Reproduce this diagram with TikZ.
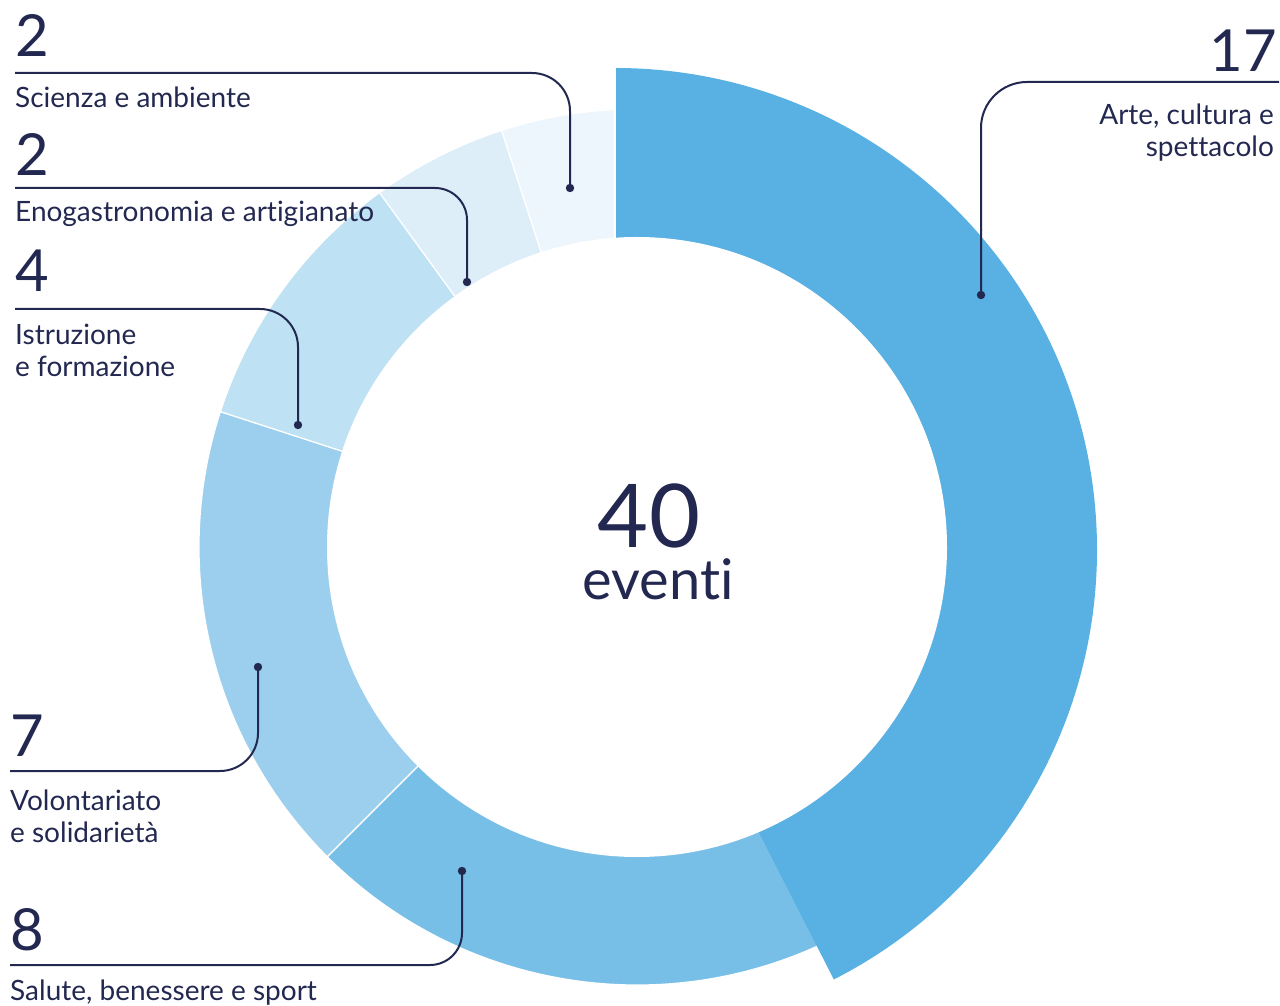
\documentclass[tikz,border=0pt]{standalone}
\usepackage{fontspec}
\setmainfont{Lato}[Ligatures=NoCommon]
\usetikzlibrary{positioning}

\definecolor{navy}{RGB}{34,40,80}
\definecolor{arteblue}{RGB}{88,176,227}
\definecolor{saluteblue}{RGB}{120,191,231}
\definecolor{volblue}{RGB}{156,207,238}
\definecolor{istrblue}{RGB}{190,225,244}
\definecolor{enoblue}{RGB}{221,238,249}
\definecolor{sciblue}{RGB}{237,246,252}

\tikzset{
  slice/.style={draw=white, line width=1.2pt},
  count/.style={inner sep=0pt, text=navy, font=\fontsize{58}{58}\selectfont},
  cat/.style={inner sep=0pt, text=navy, font=\fontsize{28}{32}\selectfont, align=left},
  leader/.style={draw=navy, line width=2pt, rounded corners=38},
  dot/.style={fill=navy}
}

\begin{document}
\begin{tikzpicture}[x=1pt,y=1pt]
  \useasboundingbox (0,0) rectangle (1280,1005);
  \coordinate (O) at (637,458);
  \coordinate (A) at (615,455);
  \foreach \a/\b/\c in {-63/-135/saluteblue, -135/-198/volblue, -198/-234/istrblue, -234/-252/enoblue, -252/-270/sciblue}
    \filldraw[slice, fill=\c] (O) -- ++(\a:438) arc (\a:\b:438) -- cycle;
  \fill[arteblue] (A) -- ++(90:482) arc (90:-63:482) -- cycle;
  \draw[white, line width=1.2pt] (A) -- ++(90:482);
  \fill[white] (O) circle (310);

  \node[inner sep=0pt, text=navy, font=\fontsize{88}{88}\selectfont, anchor=base] (total) at (649,457) {40};
  \node[inner sep=0pt, text=navy, font=\fontsize{56}{56}\selectfont, anchor=base] (unit) at (658,405) {eventi};

  \node[count, anchor=base west] (sciN) at (15,948) {2};
  \node[cat, anchor=base west] (sciT) at (15,897) {Scienza e ambiente};
  \coordinate (sciL) at (15,932);
  \coordinate (sciD) at (570,817);
  \draw[leader] (sciL) -| (sciD);
  \fill[dot] (sciD) circle (4.2);

  \node[count, anchor=base west] (enoN) at (15,829) {2};
  \node[cat, anchor=base west] (enoT) at (15,783) {Enogastronomia e artigianato};
  \coordinate (enoL) at (15,817);
  \coordinate (enoD) at (467,723);
  \draw[leader, rounded corners=32] (enoL) -| (enoD);
  \fill[dot] (enoD) circle (4.2);

  \node[count, anchor=base west] (istrN) at (15,713) {4};
  \node[cat, anchor=base west] (istrT) at (15,628) {Istruzione\\e formazione};
  \coordinate (istrL) at (15,696);
  \coordinate (istrD) at (298,580);
  \draw[leader] (istrL) -| (istrD);
  \fill[dot] (istrD) circle (4.2);

  \node[count, anchor=base west] (volN) at (10,248) {7};
  \node[cat, anchor=base west] (volT) at (10,163) {Volontariato\\e solidarietà};
  \coordinate (volL) at (10,234);
  \coordinate (volD) at (258,338);
  \draw[leader] (volL) -| (volD);
  \fill[dot] (volD) circle (4.2);

  \node[count, anchor=base west] (salN) at (10,55) {8};
  \node[cat, anchor=base west] (salT) at (10,5) {Salute, benessere e sport};
  \coordinate (salL) at (10,40);
  \coordinate (salD) at (462,134);
  \draw[leader, rounded corners=32] (salL) -| (salD);
  \fill[dot] (salD) circle (4.2);

  \node[count, anchor=base east] (arteN) at (1277,933) {17};
  \node[cat, anchor=base east, align=right] (arteT) at (1274,848) {Arte, cultura e\\spettacolo};
  \coordinate (arteL) at (1279,923);
  \coordinate (arteD) at (981,710);
  \draw[leader, rounded corners=46] (arteL) -| (arteD);
  \fill[dot] (arteD) circle (4.2);
\end{tikzpicture}
\end{document}
